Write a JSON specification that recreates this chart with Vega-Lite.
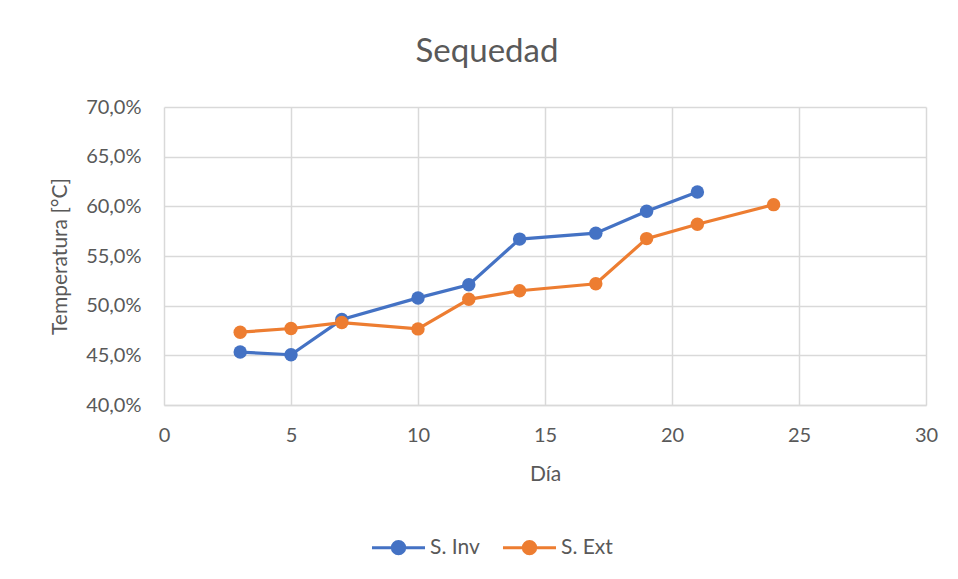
{
  "$schema": "https://vega.github.io/schema/vega-lite/v6.json",
  "autosize": {"type": "none"},
  "width": 762,
  "height": 298,
  "padding": {"left": 164, "top": 107, "right": 32, "bottom": 174},
  "background": "white",
  "title": {
    "text": "Sequedad",
    "fontSize": 33,
    "font": "Lato",
    "fontWeight": "normal",
    "color": "#595959",
    "frame": "group",
    "anchor": "middle",
    "dx": -58,
    "offset": 28
  },
  "data": {
    "values": [
      {"dia": 3, "valor": 0.4533, "serie": "S. Inv"},
      {"dia": 5, "valor": 0.4506, "serie": "S. Inv"},
      {"dia": 7, "valor": 0.486, "serie": "S. Inv"},
      {"dia": 10, "valor": 0.5078, "serie": "S. Inv"},
      {"dia": 12, "valor": 0.521, "serie": "S. Inv"},
      {"dia": 14, "valor": 0.567, "serie": "S. Inv"},
      {"dia": 17, "valor": 0.573, "serie": "S. Inv"},
      {"dia": 19, "valor": 0.595, "serie": "S. Inv"},
      {"dia": 21, "valor": 0.6145, "serie": "S. Inv"},
      {"dia": 3, "valor": 0.4733, "serie": "S. Ext"},
      {"dia": 5, "valor": 0.477, "serie": "S. Ext"},
      {"dia": 7, "valor": 0.483, "serie": "S. Ext"},
      {"dia": 10, "valor": 0.4766, "serie": "S. Ext"},
      {"dia": 12, "valor": 0.5064, "serie": "S. Ext"},
      {"dia": 14, "valor": 0.515, "serie": "S. Ext"},
      {"dia": 17, "valor": 0.522, "serie": "S. Ext"},
      {"dia": 19, "valor": 0.5675, "serie": "S. Ext"},
      {"dia": 21, "valor": 0.582, "serie": "S. Ext"},
      {"dia": 24, "valor": 0.6017, "serie": "S. Ext"}
    ]
  },
  "mark": {
    "type": "line",
    "strokeWidth": 3.2,
    "point": {"filled": true, "size": 180, "opacity": 1}
  },
  "encoding": {
    "x": {
      "field": "dia",
      "type": "quantitative",
      "scale": {"domain": [0, 30], "nice": false},
      "axis": {
        "title": "Día",
        "values": [0, 5, 10, 15, 20, 25, 30],
        "titlePadding": 18,
        "labelFlush": false,
        "labelPadding": 20
      }
    },
    "y": {
      "field": "valor",
      "type": "quantitative",
      "scale": {"domain": [0.4, 0.7], "nice": false, "zero": false},
      "axis": {
        "title": "Temperatura [°C]",
        "values": [0.4, 0.45, 0.5, 0.55, 0.6, 0.65, 0.7],
        "labelExpr": "replace(format(datum.value, '.1%'), '.', ',')",
        "titlePadding": 15,
        "labelPadding": 23,
        "domain": false
      }
    },
    "color": {
      "field": "serie",
      "type": "nominal",
      "sort": ["S. Inv", "S. Ext"],
      "scale": {"domain": ["S. Inv", "S. Ext"], "range": ["#4472C4", "#ED7D31"]},
      "legend": {
        "title": null,
        "orient": "none",
        "direction": "horizontal",
        "legendX": 215,
        "legendY": 421,
        "symbolType": "M-1.5,0H1.5M-0.35,0A0.35,0.35 0 1,0 0.35,0A0.35,0.35 0 1,0 -0.35,0",
        "symbolSize": 1250,
        "symbolStrokeWidth": 3,
        "symbolFillColor": null,
        "labelOffset": 12,
        "columnPadding": 16,
        "labelFontSize": 21,
        "labelColor": "#595959",
        "labelFont": "Lato"
      }
    }
  },
  "config": {
    "view": {"stroke": null},
    "font": "Lato",
    "axis": {
      "labelFontSize": 20,
      "titleFontSize": 21,
      "labelColor": "#595959",
      "titleColor": "#595959",
      "titleFontWeight": "normal",
      "labelFont": "Lato",
      "titleFont": "Lato",
      "gridColor": "#d9d9d9",
      "gridWidth": 1.5,
      "domainColor": "#d9d9d9",
      "domainWidth": 1.5,
      "ticks": false
    }
  }
}
